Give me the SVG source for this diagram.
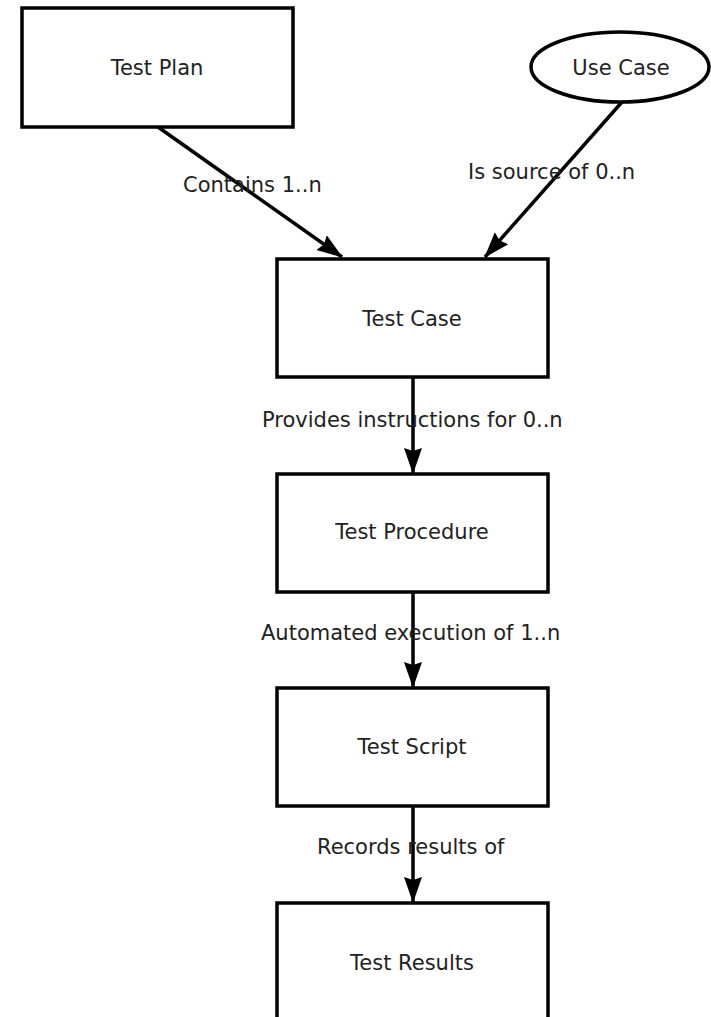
<svg xmlns="http://www.w3.org/2000/svg" width="711" height="1017" viewBox="0 0 711 1017">
  <style>
    .box { fill: #ffffff; stroke: #000000; stroke-width: 3.5; }
    .node-label { font-family: "DejaVu Sans", sans-serif; font-size: 21px; fill: #222222; text-anchor: middle; dominant-baseline: central; }
    .edge { fill: none; stroke: #000000; stroke-width: 3.5; marker-end: url(#arrow); }
    .edge-label { font-family: "DejaVu Sans", sans-serif; font-size: 21px; fill: #222222; dominant-baseline: central; }
  </style>
  <defs>
    <marker id="arrow" viewBox="0 0 26 20" refX="25" refY="10" markerWidth="26" markerHeight="20" markerUnits="userSpaceOnUse" orient="auto">
      <path d="M0,1 L26,10 L0,19 L3,10 Z" fill="#000000"/>
    </marker>
  </defs>
  <rect width="711" height="1017" fill="#ffffff"/>

  <!-- connectors -->
  <g id="connectors">
    <line class="edge" x1="158" y1="127" x2="342" y2="257"/>
    <line class="edge" x1="622" y1="102" x2="485" y2="257"/>
    <line class="edge" x1="413" y1="377" x2="413" y2="473"/>
    <line class="edge" x1="413" y1="592" x2="413" y2="687"/>
    <line class="edge" x1="413" y1="806" x2="413" y2="902"/>
    <text class="edge-label" x="183" y="185">Contains 1..n</text>
    <text class="edge-label" x="468" y="172">Is source of 0..n</text>
    <text class="edge-label" x="262" y="420">Provides instructions for 0..n</text>
    <text class="edge-label" x="261" y="633">Automated execution of 1..n</text>
    <text class="edge-label" x="317" y="847">Records results of</text>
  </g>

  <g id="test-plan">
    <rect class="box" x="22" y="8" width="271" height="119"/>
    <text class="node-label" x="157" y="68">Test Plan</text>
  </g>
  <g id="use-case">
    <ellipse class="box" cx="620" cy="67" rx="89" ry="35"/>
    <text class="node-label" x="621" y="68">Use Case</text>
  </g>
  <g id="test-case">
    <rect class="box" x="277" y="259" width="271" height="118"/>
    <text class="node-label" x="412" y="319">Test Case</text>
  </g>
  <g id="test-procedure">
    <rect class="box" x="277" y="474" width="271" height="118"/>
    <text class="node-label" x="412" y="532">Test Procedure</text>
  </g>
  <g id="test-script">
    <rect class="box" x="277" y="688" width="271" height="118"/>
    <text class="node-label" x="412" y="747">Test Script</text>
  </g>
  <g id="test-results">
    <rect class="box" x="277" y="903" width="271" height="130"/>
    <text class="node-label" x="412" y="963">Test Results</text>
  </g>
</svg>
